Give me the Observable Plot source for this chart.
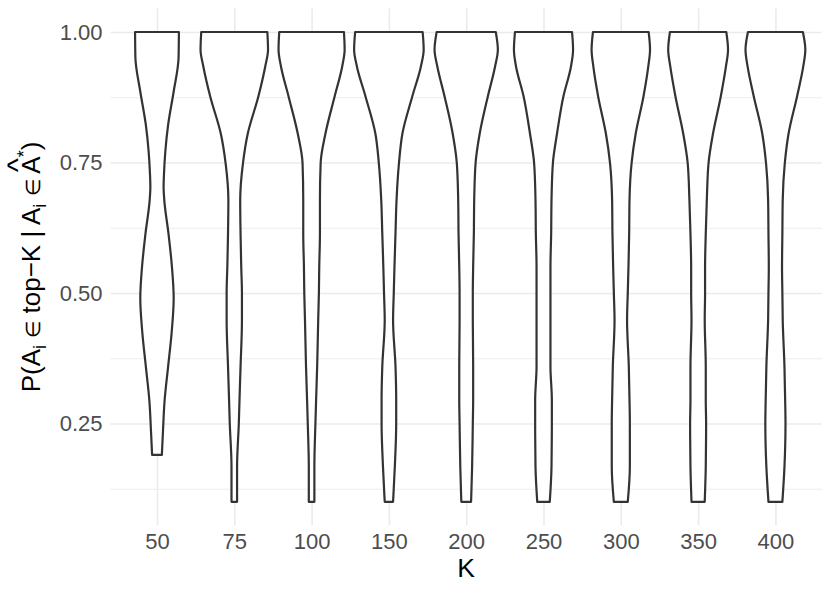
<!DOCTYPE html>
<html><head><meta charset="utf-8">
<script src="https://cdn.jsdelivr.net/npm/d3@7"></script>
<script src="https://cdn.jsdelivr.net/npm/@observablehq/plot@0.6"></script>
<style>body{margin:0;background:#fff} svg{display:block}</style>
</head><body><div id="chart"></div>
<script>
// Categories (K values)
const K = ["50", "75", "100", "150", "200", "250", "300", "350", "400"];
// y levels at which the violin densities were read
const levels = [1.00, 0.966, 0.934, 0.876, 0.806, 0.749, 0.678, 0.614, 0.55, 0.50, 0.448, 0.359, 0.295, 0.25, 0.167, 0.10];
const levels50 = [1.00, 0.95, 0.886, 0.822, 0.771, 0.726, 0.704, 0.678, 0.614, 0.55, 0.49, 0.423, 0.359, 0.295, 0.232, 0.19];
// scaled densities (1 = widest violin)
const d50  = [0.63, 0.62, 0.48, 0.32, 0.24, 0.20, 0.19, 0.21, 0.33, 0.43, 0.48, 0.42, 0.32, 0.22, 0.17, 0.14];
const d75  = [0.95, 0.97, 0.89, 0.69, 0.39, 0.25, 0.17, 0.18, 0.20, 0.22, 0.22, 0.18, 0.15, 0.13, 0.08, 0.08];
const d100 = [0.93, 0.95, 0.88, 0.66, 0.40, 0.26, 0.24, 0.24, 0.22, 0.21, 0.19, 0.16, 0.13, 0.11, 0.08, 0.08];
const d150 = [0.97, 1.00, 0.92, 0.67, 0.39, 0.29, 0.22, 0.19, 0.16, 0.14, 0.12, 0.19, 0.21, 0.21, 0.17, 0.12];
const d200 = [0.85, 0.91, 0.83, 0.62, 0.39, 0.27, 0.23, 0.22, 0.20, 0.19, 0.19, 0.20, 0.20, 0.19, 0.17, 0.14];
const d250 = [0.82, 0.85, 0.79, 0.57, 0.39, 0.27, 0.23, 0.22, 0.20, 0.20, 0.20, 0.20, 0.24, 0.24, 0.23, 0.18];
const d300 = [0.80, 0.84, 0.79, 0.65, 0.43, 0.31, 0.25, 0.24, 0.22, 0.20, 0.18, 0.23, 0.25, 0.26, 0.26, 0.20];
const d350 = [0.81, 0.86, 0.80, 0.65, 0.43, 0.30, 0.25, 0.22, 0.20, 0.20, 0.19, 0.22, 0.22, 0.23, 0.22, 0.19];
const d400 = [0.79, 0.86, 0.80, 0.62, 0.38, 0.27, 0.21, 0.20, 0.19, 0.20, 0.21, 0.26, 0.28, 0.29, 0.26, 0.20];
const densities = [d50, d75, d100, d150, d200, d250, d300, d350, d400];
// axis ticks
const yTicks = [0.25, 0.50, 0.75, 1.00];
const yMinor = [0.125, 0.375, 0.625, 0.875];

const rows = [];
K.forEach((k, i) => {
  const lv = i === 0 ? levels50 : levels;
  lv.forEach((v, j) => rows.push({K: k, idx: i, v, d: densities[i][j]}));
});

const FONT = "'Liberation Sans', Arial, Helvetica, sans-serif";
const halfMax = 0.45;

const plot = Plot.plot({
  width: 830, height: 593,
  marginLeft: 110.6, marginRight: 8.2, marginTop: 8.5, marginBottom: 67.7,
  style: {fontFamily: FONT, fontSize: "22px", background: "white"},
  x: {domain: [-0.6, K.length - 0.4]},
  y: {domain: [0.055, 1.045]},
  marks: [
    Plot.ruleY(yMinor, {stroke: "#EBEBEB", strokeWidth: 0.9}),
    Plot.ruleY(yTicks, {stroke: "#EBEBEB", strokeWidth: 1.6}),
    Plot.ruleX(d3.range(K.length), {stroke: "#EBEBEB", strokeWidth: 1.6}),
    Plot.areaX(rows, {
      y: "v",
      x1: d => d.idx - halfMax * d.d,
      x2: d => d.idx + halfMax * d.d,
      z: "K", fill: "white", stroke: "#333333", strokeWidth: 2.2, strokeLinejoin: "round",
      curve: "monotone-y"
    }),
    Plot.axisX(d3.range(K.length), {tickSize: 0, tickPadding: 7.4, tickFormat: i => K[i], fontSize: 22, fill: "#4D4D4D", label: null}),
    Plot.axisY(yTicks, {tickSize: 0, tickPadding: 8.6, tickFormat: d3.format(".2f"), fontSize: 22, fill: "#4D4D4D", label: null})
  ]
});

document.getElementById("chart").appendChild(plot);

const svg = d3.select(plot);
// X axis title
svg.append("text")
  .attr("x", (110.6 + 821.8) / 2).attr("y", 576.7)
  .attr("text-anchor", "middle")
  .attr("font-family", FONT).attr("font-size", 26.5).attr("fill", "black")
  .text("K");

// Y axis title with subscripts, hat and superscript
const yC = (8.5 + 525.3) / 2;
const t = svg.append("text")
  .attr("transform", `translate(40,${yC}) rotate(-90)`)
  .attr("text-anchor", "middle")
  .attr("font-family", FONT)
  .attr("font-size", 26)
  .attr("fill", "black");
t.append("tspan").text("P(A");
t.append("tspan").attr("font-size", 18).attr("dy", 6).text("i");
t.append("tspan").attr("dy", -6).text(" ");
t.append("tspan").attr("font-size", 20).text("\u2208");
t.append("tspan").text(" top\u2212K | A");
t.append("tspan").attr("font-size", 18).attr("dy", 6).text("i");
t.append("tspan").attr("dy", -6).text(" ");
t.append("tspan").attr("font-size", 20).text("\u2208");
t.append("tspan").text(" A");
t.append("tspan").attr("font-size", 30).attr("dx", -16).attr("dy", -12).text("^");
t.append("tspan").attr("font-size", 18).attr("dx", 1).attr("dy", 2).text("*");
t.append("tspan").attr("dy", 10).text(")");
</script>
</body></html>
